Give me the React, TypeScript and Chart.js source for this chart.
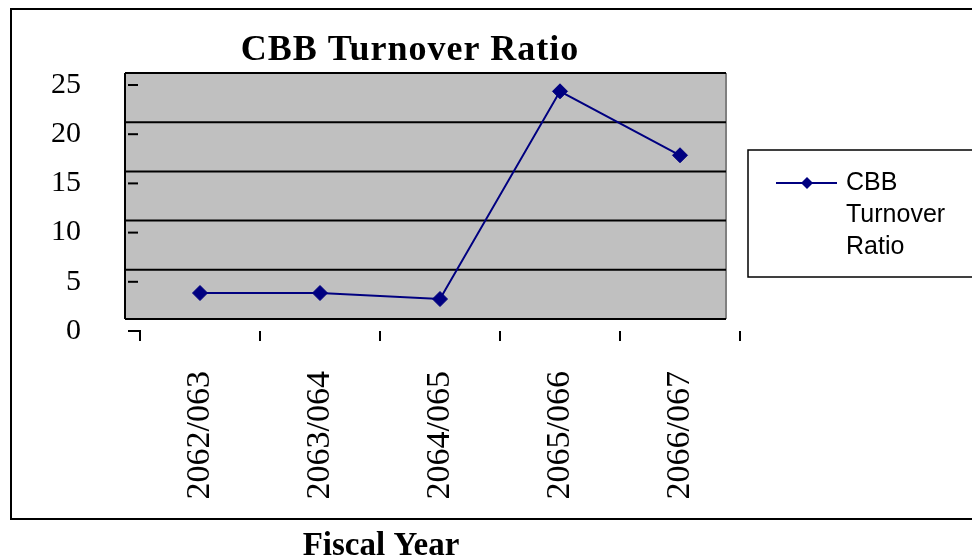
import { useEffect, useRef } from "react";
import { Chart, registerables } from "chart.js";

Chart.register(...registerables);

// Fiscal years on the category axis
const fiscalYears = ["2062/063", "2063/064", "2064/065", "2065/066", "2066/067"];
// CBB turnover ratio per fiscal year
const turnoverRatio = [2.64, 2.64, 2.03, 23.14, 16.64];
// Value axis range
const yMin = 0;
const yMax = 25;
const yStep = 5;

const chartTitle = "CBB Turnover Ratio";
const seriesLabel = "CBB Turnover Ratio";
const legendLines = ["CBB", "Turnover", "Ratio"];
const xAxisTitle = "Fiscal Year";

const SERIF = '"Liberation Serif", "Times New Roman", serif';
const SANS = '"Liberation Sans", Arial, sans-serif';
const NAVY = "#000080";

// Grey plot box, gridlines, tick marks, titles, legend and frame drawn around the library scales
const decorations = {
  id: "excelDecorations",
  beforeDraw(chart: any) {
    const { ctx, chartArea: a } = chart;
    ctx.save();
    ctx.fillStyle = "#ffffff";
    ctx.fillRect(0, 0, chart.width, chart.height);
    const boxL = a.left - 15;
    const boxR = a.right - 14;
    ctx.fillStyle = "#c0c0c0";
    ctx.fillRect(boxL, a.top, boxR - boxL, a.bottom - a.top);
    ctx.strokeStyle = "#808080";
    ctx.lineWidth = 2;
    ctx.beginPath();
    ctx.moveTo(boxR, a.top);
    ctx.lineTo(boxR, a.bottom);
    ctx.stroke();
    ctx.restore();
  },
  beforeDatasetsDraw(chart: any) {
    const { ctx, chartArea: a, scales } = chart;
    const ys = scales.y;
    const xs = scales.x;
    const boxL = a.left - 15;
    const boxR = a.right - 14;
    ctx.save();
    ctx.strokeStyle = "#000000";
    ctx.lineWidth = 2;
    // horizontal gridlines
    ys.ticks.forEach((t: any) => {
      const y = ys.getPixelForValue(t.value);
      ctx.beginPath();
      ctx.moveTo(boxL, y);
      ctx.lineTo(boxR, y);
      ctx.stroke();
    });
    // value axis line
    ctx.beginPath();
    ctx.moveTo(boxL, a.top);
    ctx.lineTo(boxL, a.bottom);
    ctx.stroke();
    // value-axis tick marks
    ys.ticks.forEach((t: any) => {
      const y = ys.getPixelForValue(t.value) + 12;
      ctx.beginPath();
      ctx.moveTo(a.left - 12, y);
      ctx.lineTo(t.value === yMin ? a.left + 1 : a.left - 2, y);
      ctx.stroke();
    });
    // category-axis tick marks at category boundaries
    const n = fiscalYears.length;
    const step = n > 1 ? xs.getPixelForValue(1) - xs.getPixelForValue(0) : a.right - a.left;
    for (let i = 0; i <= n; i++) {
      const x = xs.getPixelForValue(Math.min(i, n - 1)) + (i < n ? -step / 2 : step / 2);
      ctx.beginPath();
      ctx.moveTo(x, a.bottom + 12);
      ctx.lineTo(x, a.bottom + 22);
      ctx.stroke();
    }
    ctx.restore();
  },
  afterDraw(chart: any) {
    const { ctx } = chart;
    const ds = chart.data.datasets[0];
    ctx.save();
    // chart title
    ctx.fillStyle = "#000000";
    ctx.font = `bold 36px ${SERIF}`;
    ctx.textAlign = "center";
    ctx.textBaseline = "alphabetic";
    if ("letterSpacing" in ctx) (ctx as any).letterSpacing = "1px";
    ctx.fillText(chartTitle, 410, 60);
    if ("letterSpacing" in ctx) (ctx as any).letterSpacing = "0px";
    // legend
    ctx.strokeStyle = "#000000";
    ctx.lineWidth = 1.5;
    ctx.strokeRect(748, 150, 300, 127);
    ctx.strokeStyle = ds.borderColor;
    ctx.lineWidth = 2;
    ctx.beginPath();
    ctx.moveTo(776, 183);
    ctx.lineTo(837, 183);
    ctx.stroke();
    ctx.fillStyle = ds.borderColor;
    ctx.beginPath();
    ctx.moveTo(807 - 6, 183);
    ctx.lineTo(807, 183 - 6);
    ctx.lineTo(807 + 6, 183);
    ctx.lineTo(807, 183 + 6);
    ctx.closePath();
    ctx.fill();
    ctx.fillStyle = "#000000";
    ctx.font = `25px ${SANS}`;
    ctx.textAlign = "left";
    legendLines.forEach((line, i) => {
      ctx.fillText(line, 846, 190 + i * 32);
    });
    // outer frame
    ctx.lineWidth = 2;
    ctx.strokeStyle = "#000000";
    ctx.strokeRect(11, 9, 975, 510);
    // category axis title, below the frame
    ctx.font = `bold 33px ${SERIF}`;
    ctx.textAlign = "center";
    ctx.fillText(xAxisTitle, 381, 555);
    ctx.restore();
  },
};

export default function App() {
  const canvasRef = useRef<HTMLCanvasElement | null>(null);

  useEffect(() => {
    const canvas = canvasRef.current;
    if (!canvas) return;
    const chart = new Chart(canvas, {
      type: "line",
      data: {
        labels: fiscalYears,
        datasets: [
          {
            label: seriesLabel,
            data: turnoverRatio,
            borderColor: NAVY,
            backgroundColor: NAVY,
            borderWidth: 2,
            pointStyle: "rectRot",
            pointRadius: 7.5,
            pointBorderWidth: 1,
            pointBackgroundColor: NAVY,
            pointBorderColor: NAVY,
            tension: 0,
          },
        ],
      },
      options: {
        responsive: false,
        animation: false,
        devicePixelRatio: 1,
        layout: { padding: { left: 30, right: 232, top: 73, bottom: 0 } },
        plugins: {
          legend: { display: false },
          tooltip: { enabled: false },
          title: { display: false },
        },
        scales: {
          x: {
            type: "category",
            offset: true,
            grid: { display: false, drawTicks: false },
            border: { display: false },
            ticks: {
              color: "#000000",
              font: { family: SERIF, size: 34 },
              minRotation: 90,
              maxRotation: 90,
              autoSkip: false,
              padding: 52,
            },
            afterFit(scale: any) {
              scale.height = 240;
            },
          },
          y: {
            min: yMin,
            max: yMax,
            grid: { display: false, drawTicks: false },
            border: { display: false },
            ticks: {
              stepSize: yStep,
              color: "#000000",
              font: { family: SERIF, size: 30 },
              padding: 59,
              labelOffset: 12,
            },
            afterFit(scale: any) {
              scale.width = 110;
              // labels are pushed sideways, so they need no room above or below the plot
              scale.paddingTop = 0;
              scale.paddingBottom = 0;
            },
          },
        },
      },
      plugins: [decorations],
    });
    return () => chart.destroy();
  }, []);

  return (
    <div style={{ position: "fixed", left: 0, top: 0, width: 972, height: 559 }}>
      <canvas ref={canvasRef} width={972} height={559} style={{ display: "block" }} />
    </div>
  );
}
